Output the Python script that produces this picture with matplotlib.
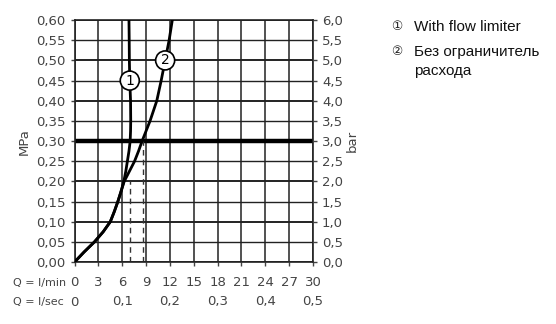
import matplotlib
matplotlib.use("Agg")
import matplotlib.pyplot as plt
import matplotlib.transforms as mtransforms

# Datos (Q en l/min, p en MPa)
p_mpa = [0.0, 0.025, 0.05, 0.075, 0.10, 0.125, 0.15, 0.175, 0.20, 0.225, 0.25, 0.275,
         0.30, 0.325, 0.35, 0.40, 0.45, 0.50, 0.55, 0.60]
q_limitador = [0.0, 1.2, 2.5, 3.6, 4.5, 5.0, 5.45, 5.85, 6.2, 6.45, 6.65, 6.85,
               7.0, 7.05, 7.07, 7.05, 6.95, 6.9, 6.88, 6.85]
q_sin_limitador = [0.0, 1.2, 2.5, 3.6, 4.5, 5.0, 5.45, 5.85, 6.25, 6.9, 7.55, 8.05,
                   8.5, 9.0, 9.5, 10.35, 10.9, 11.4, 11.9, 12.3]

ticks_mpa = [0.0, 0.05, 0.10, 0.15, 0.20, 0.25, 0.30, 0.35, 0.40, 0.45, 0.50, 0.55, 0.60]
ticks_bar = [0.0, 0.5, 1.0, 1.5, 2.0, 2.5, 3.0, 3.5, 4.0, 4.5, 5.0, 5.5, 6.0]
ticks_lmin = [0, 3, 6, 9, 12, 15, 18, 21, 24, 27, 30]
ticks_lsec = [0, 0.1, 0.2, 0.3, 0.4, 0.5]

guia_q = [7.0, 8.6]
guia_p = [0.20, 0.30]

gris = "#444444"
fuente_ley = ["Liberation Sans", "DejaVu Sans"]

fig = plt.figure(figsize=(5.56, 3.24), dpi=100)
ax = fig.add_axes([0.134, 0.191, 0.429, 0.747])

# rejilla
for q in ticks_lmin:
    ax.axvline(q, color="#222222", lw=1.1, zorder=1)
for p in ticks_mpa:
    grueso = 1.4 if round(p * 100) % 10 == 0 else 1.0
    ax.axhline(p, color="#222222", lw=grueso, zorder=1)
ax.axhline(0.30, color="black", lw=3.2, zorder=2)

# lineas de guia
for q, p in zip(guia_q, guia_p):
    ax.plot([q, q], [0, p], color="#333333", lw=1.0, ls=(0, (4, 3)), zorder=2)

ax.plot(q_limitador, p_mpa, color="black", lw=2.0, zorder=3, solid_joinstyle="round")
ax.plot(q_sin_limitador, p_mpa, color="black", lw=2.0, zorder=3, solid_joinstyle="round")

circulo = dict(boxstyle="circle,pad=0.18", fc="white", ec="black", lw=1.2)
ax.text(6.95, 0.45, "1", ha="center", va="center", fontsize=10, bbox=circulo, zorder=4)
ax.text(11.4, 0.50, "2", ha="center", va="center", fontsize=10, bbox=circulo, zorder=4)

ax.set_xlim(0, 30)
ax.set_ylim(0, 0.60)
ax.set_yticks(ticks_mpa)
ax.set_yticklabels([f"{v:.2f}".replace(".", ",") for v in ticks_mpa])
ax.set_xticks(ticks_lmin)
ax.set_xticklabels([str(v) for v in ticks_lmin])
ax.tick_params(axis="both", colors=gris, labelsize=9.5, length=3, width=1, direction="out")
ax.tick_params(axis="x", pad=7)
for s in ax.spines.values():
    s.set_color("#222222")
    s.set_linewidth(1.2)

ax2 = ax.twinx()
ax2.set_ylim(0, 6.0)
ax2.set_yticks(ticks_bar)
ax2.set_yticklabels([f"{v:.1f}".replace(".", ",") for v in ticks_bar])
ax2.tick_params(axis="y", colors=gris, labelsize=9.5, length=3, width=1)
for s in ax2.spines.values():
    s.set_visible(False)

ax.set_ylabel("MPa", color=gris, fontsize=9.5, labelpad=4)
ax2.set_ylabel("bar", color=gris, fontsize=9.5, rotation=90, labelpad=2)

# filas del eje Q
tr = mtransforms.blended_transform_factory(ax.transData, fig.transFigure)
fig.text(13 / 556, 1 - 283 / 324, "Q = l/min", color=gris, fontsize=8, va="center")
fig.text(13 / 556, 1 - 302 / 324, "Q = l/sec", color=gris, fontsize=8, va="center")
for v in ticks_lsec:
    etiqueta = "0" if v == 0 else f"{v:.1f}".replace(".", ",")
    ax.text(v * 60, 1 - 302 / 324, etiqueta, transform=tr, color=gris,
            fontsize=9.5, ha="center", va="center")

# leyenda
fig.text(391 / 556, 1 - 27 / 324, "\u2460", fontsize=9, va="center", family=fuente_ley, color="#222222")
fig.text(414 / 556, 1 - 27 / 324, "With flow limiter", fontsize=11, va="center", family=fuente_ley, color="#111111")
fig.text(391 / 556, 1 - 52 / 324, "\u2461", fontsize=9, va="center", family=fuente_ley, color="#222222")
fig.text(414 / 556, 1 - 52 / 324, "Без ограничитель", fontsize=11, va="center", family=fuente_ley, color="#111111")
fig.text(414 / 556, 1 - 71 / 324, "расхода", fontsize=11, va="center", family=fuente_ley, color="#111111")

fig.savefig("out.png", dpi=100)
